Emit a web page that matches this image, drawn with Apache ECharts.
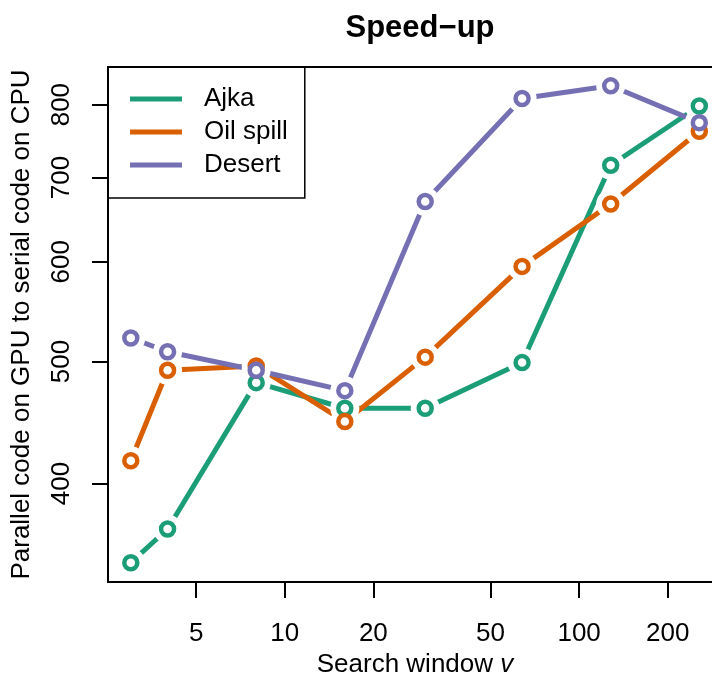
<!DOCTYPE html>
<html>
<head>
<meta charset="utf-8">
<script src="https://cdn.jsdelivr.net/npm/echarts@6/dist/echarts.min.js"></script>
<style>html,body{margin:0;padding:0;background:#fff;}#c{width:712px;height:679px;}</style>
</head>
<body>
<div id="c"></div>
<script>
const xValues = [3, 4, 8, 16, 30, 64, 128, 256];
const ajka = [346, 368, 481, 459, 459, 499, 716, 798];
const oilSpill = [417, 492, 496, 448, 504, 595, 667, 762];
const desert = [522, 509, 492, 474, 670, 809, 828, 774];
const seriesNames = ['Ajka', 'Oil spill', 'Desert'];
const seriesColors = ['#1B9E77', '#D95F02', '#7570B3'];
const xTicks = [5, 10, 20, 50, 100, 200];
const yTicks = [400, 500, 600, 700, 800];

const FONT = 'Liberation Sans, Arial, Helvetica, sans-serif';
const allData = [ajka, oilSpill, desert];
const series = [];
allData.forEach((vals, i) => {
  const pts = xValues.map((x, j) => [x, vals[j]]);
  series.push({
    name: seriesNames[i], type: 'line', data: pts, showSymbol: false, z: 2,
    color: seriesColors[i],
    lineStyle: { width: 5, color: seriesColors[i], cap: 'round' },
    itemStyle: { color: seriesColors[i] }, silent: true, animation: false
  });
  series.push({
    name: seriesNames[i] + '_halo', type: 'scatter', data: pts, z: 3, silent: true,
    symbol: 'circle', symbolSize: 29, itemStyle: { color: '#ffffff', opacity: 1 }, animation: false
  });
  series.push({
    name: seriesNames[i] + '_pt', type: 'scatter', data: pts, z: 4 + i, silent: true,
    symbol: 'circle', symbolSize: 13,
    itemStyle: { color: '#ffffff', borderColor: seriesColors[i], borderWidth: 4.5, opacity: 1 },
    animation: false
  });
});

const chart = echarts.init(document.getElementById('c'), null, { renderer: 'canvas' });
chart.setOption({
  animation: false,
  backgroundColor: '#ffffff',
  title: {
    text: 'Speed\u2212up', left: 415, top: 8, textAlign: 'center',
    textStyle: { fontFamily: FONT, fontWeight: 'bold', fontSize: 31, color: '#000' }
  },
  legend: {
    data: seriesNames, orient: 'vertical', left: 108, top: 67,
    icon: 'rect', itemWidth: 52, itemHeight: 5, itemGap: 7,
    borderColor: '#000', borderWidth: 1.5, borderRadius: 0,
    padding: [19, 17, 20, 22],
    textStyle: { fontFamily: FONT, fontSize: 26, color: '#000', lineHeight: 26, padding: [0, 0, 0, 17] }
  },
  grid: {
    left: 108, top: 67, width: 614, height: 515, show: true,
    outerBoundsMode: 'none', containLabel: false,
    borderColor: '#000', borderWidth: 2, backgroundColor: 'transparent'
  },
  xAxis: {
    type: 'log', min: 2.51, max: 305.7,
    name: '{a|Search window }{b|v}', nameLocation: 'middle', nameGap: 68,
    nameTextStyle: {
      rich: {
        a: { fontFamily: FONT, fontSize: 26, color: '#000' },
        b: { fontFamily: FONT, fontSize: 26, color: '#000', fontStyle: 'italic' }
      }
    },
    axisLine: { show: false },
    axisTick: { show: true, inside: false, length: 16, lineStyle: { color: '#000', width: 2 }, customValues: xTicks },
    axisLabel: { customValues: xTicks, formatter: v => String(v), fontFamily: FONT, fontSize: 26, color: '#000', margin: 39 },
    splitLine: { show: false }
  },
  yAxis: {
    type: 'log', min: 334, max: 857,
    name: 'Parallel code on GPU to serial code on CPU', nameLocation: 'middle', nameGap: 73, nameRotate: 90,
    nameTextStyle: { fontFamily: FONT, fontSize: 26, color: '#000' },
    axisLine: { show: false },
    axisTick: { show: true, inside: false, length: 16, lineStyle: { color: '#000', width: 2 }, customValues: yTicks },
    axisLabel: { customValues: yTicks, formatter: v => String(v), rotate: 90, fontFamily: FONT, fontSize: 26, color: '#000', margin: 33 },
    splitLine: { show: false }
  },
  series: series
});
</script>
</body>
</html>
